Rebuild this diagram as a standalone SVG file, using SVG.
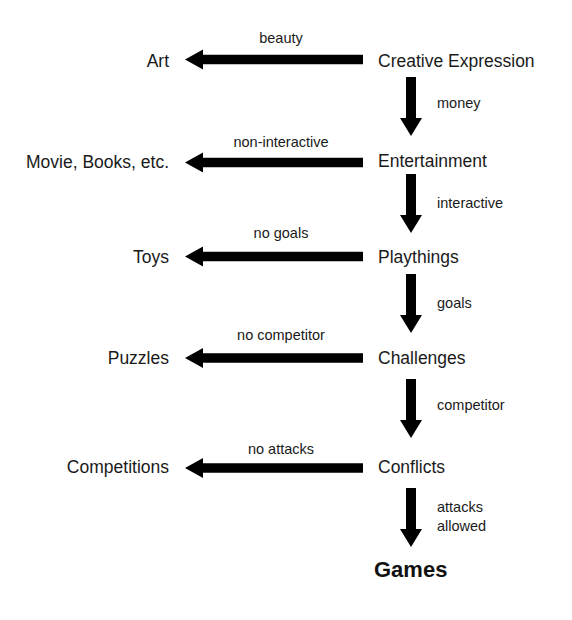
<svg xmlns="http://www.w3.org/2000/svg" xmlns:xlink="http://www.w3.org/1999/xlink" width="572" height="620" viewBox="0 0 572 620">
  <style>
    .node { font-family: "Liberation Sans", Arial, sans-serif; font-size: 17.5px; fill: #1a1a1a; }
    .left { text-anchor: end; }
    .lbl { font-family: "Liberation Sans", Arial, sans-serif; font-size: 14.5px; fill: #1a1a1a; }
    .mid { text-anchor: middle; }
    .bold { font-family: "Liberation Sans", Arial, sans-serif; font-size: 22px; font-weight: bold; fill: #111; }
    .arrow { fill: #000; }
  </style>
  <defs>
    <path id="harrow" class="arrow" d="M0,0 L18,-10 L18,-4.75 L178,-4.75 L178,4.75 L18,4.75 L18,10 Z"/>
    <path id="varrow" class="arrow" d="M-5,-59 L5,-59 L5,-18 L11,-18 L0,0 L-11,-18 L-5,-18 Z"/>
  </defs>
  <rect width="572" height="620" fill="#fff"/>

  <g id="connectors">
    <use xlink:href="#harrow" href="#harrow" transform="translate(185,59.5)"/>
    <use xlink:href="#harrow" href="#harrow" transform="translate(185,162.5)"/>
    <use xlink:href="#harrow" href="#harrow" transform="translate(185,256.5)"/>
    <use xlink:href="#harrow" href="#harrow" transform="translate(185,358)"/>
    <use xlink:href="#harrow" href="#harrow" transform="translate(185,468)"/>
    <use xlink:href="#varrow" href="#varrow" transform="translate(411,136)"/>
    <use xlink:href="#varrow" href="#varrow" transform="translate(411,233)"/>
    <use xlink:href="#varrow" href="#varrow" transform="translate(411,333)"/>
    <use xlink:href="#varrow" href="#varrow" transform="translate(411,438)"/>
    <use xlink:href="#varrow" href="#varrow" transform="translate(411,547)"/>
    <text class="lbl mid" x="281" y="43">beauty</text>
    <text class="lbl mid" x="281" y="147">non-interactive</text>
    <text class="lbl mid" x="281" y="238">no goals</text>
    <text class="lbl mid" x="281" y="340">no competitor</text>
    <text class="lbl mid" x="281" y="454">no attacks</text>
    <text class="lbl" x="437" y="108">money</text>
    <text class="lbl" x="437" y="208">interactive</text>
    <text class="lbl" x="437" y="308">goals</text>
    <text class="lbl" x="437" y="410">competitor</text>
    <text class="lbl" x="437" y="512">attacks</text>
    <text class="lbl" x="437" y="531">allowed</text>
  </g>

  <g id="creative-expression"><text class="node" x="378" y="67">Creative Expression</text></g>
  <g id="entertainment"><text class="node" x="378" y="167">Entertainment</text></g>
  <g id="playthings"><text class="node" x="378" y="263">Playthings</text></g>
  <g id="challenges"><text class="node" x="378" y="364">Challenges</text></g>
  <g id="conflicts"><text class="node" x="378" y="473">Conflicts</text></g>
  <g id="games"><text class="bold" x="374" y="577">Games</text></g>

  <g id="art"><text class="node left" x="169" y="67">Art</text></g>
  <g id="movies"><text class="node left" x="169" y="168">Movie, Books, etc.</text></g>
  <g id="toys"><text class="node left" x="169" y="263">Toys</text></g>
  <g id="puzzles"><text class="node left" x="169" y="364">Puzzles</text></g>
  <g id="competitions"><text class="node left" x="169" y="473">Competitions</text></g>
</svg>
